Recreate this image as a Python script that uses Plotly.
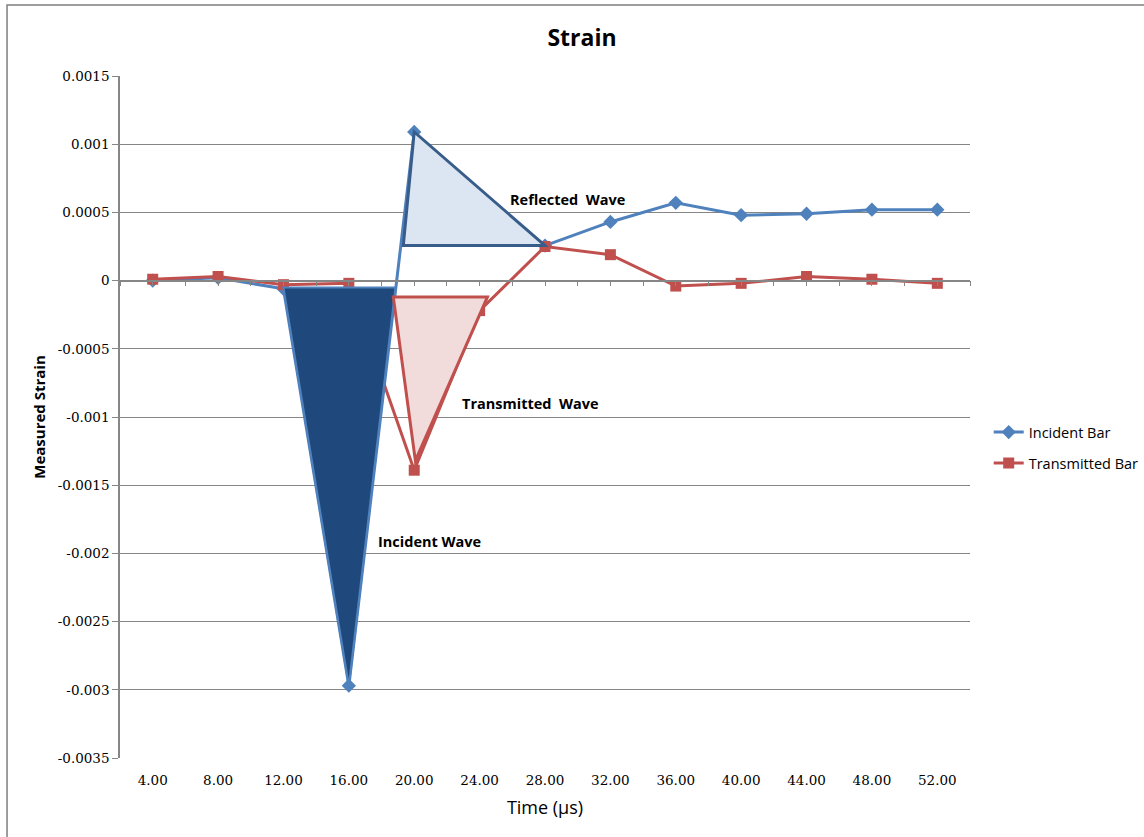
import plotly.graph_objects as go

# ---------------- data ----------------
time_us = [4, 8, 12, 16, 20, 24, 28, 32, 36, 40, 44, 48, 52]
tick_labels = ["4.00", "8.00", "12.00", "16.00", "20.00", "24.00", "28.00",
               "32.00", "36.00", "40.00", "44.00", "48.00", "52.00"]
incident_bar = [0.0, 0.00002, -0.00006, -0.00297, 0.00109, 0.00060, 0.000257,
                0.00043, 0.00057, 0.00048, 0.00049, 0.00052, 0.00052]
transmitted_bar = [0.00001, 0.00003, -0.00003, -0.00002, -0.00139, -0.00022, 0.00025,
                   0.00019, -0.00004, -0.00002, 0.00003, 0.00001, -0.00002]

y_ticks = [0.0015, 0.001, 0.0005, 0, -0.0005, -0.001, -0.0015, -0.002, -0.0025, -0.003, -0.0035]
y_tick_text = ["0.0015", "0.001", "0.0005", "0", "-0.0005", "-0.001", "-0.0015",
               "-0.002", "-0.0025", "-0.003", "-0.0035"]

# hand-drawn wave highlight polygons (x in µs, y in strain)
incident_wave_x = [12.0, 18.85, time_us[3]]
incident_wave_y = [-0.00005, -0.00005, incident_bar[3]]
reflected_wave_x = [19.33, time_us[4], time_us[6]]
reflected_wave_y = [incident_bar[6], incident_bar[4], incident_bar[6]]
transmitted_wave_x = [18.72, 24.48, 20.07]
transmitted_wave_y = [-0.00012, -0.00012, -0.00132]

BLUE = "#4F81BD"
RED = "#C0504D"
TXT = "#000000"
SANS = "Open Sans, Noto Sans, sans-serif"
SERIF = "DejaVu Serif, Liberation Serif, serif"


def poly_path(xs, ys):
    pts = [f"{x},{y}" for x, y in zip(xs, ys)]
    return "M " + " L ".join(pts) + " Z"


fig = go.Figure()
fig.add_trace(go.Scatter(
    x=time_us, y=incident_bar, name="Incident Bar", mode="lines+markers",
    line=dict(color=BLUE, width=3), marker=dict(symbol="diamond", size=11, color=BLUE),
    legendgroup="a"))
fig.add_trace(go.Scatter(
    x=time_us, y=transmitted_bar, name="Transmitted Bar", mode="lines+markers",
    line=dict(color=RED, width=3), marker=dict(symbol="square", size=11, color=RED),
    legendgroup="b"))

shapes = [
    # chart area border (top & left visible)
    dict(type="rect", xref="paper", yref="paper", x0=-0.1329, x1=1.25, y0=-0.13, y1=1.1041,
         line=dict(color="#7F7F7F", width=1.5), fillcolor="rgba(0,0,0,0)", layer="below"),
    dict(type="path", xref="x", yref="y", path=poly_path(incident_wave_x, incident_wave_y),
         fillcolor="#1F497D", line=dict(color=BLUE, width=2), layer="above"),
    dict(type="path", xref="x", yref="y", path=poly_path(reflected_wave_x, reflected_wave_y),
         fillcolor="#DCE6F2", line=dict(color="#385D8A", width=3), layer="above"),
    dict(type="path", xref="x", yref="y", path=poly_path(transmitted_wave_x, transmitted_wave_y),
         fillcolor="#F2DCDB", line=dict(color=RED, width=3), layer="above"),
]

annotations = [
    dict(text="<b>Reflected  Wave</b>", x=29.4, y=0.000594, xref="x", yref="y", showarrow=False,
         font=dict(family=SANS, size=14.5, color=TXT)),
    dict(text="<b>Transmitted  Wave</b>", x=27.1, y=-0.00090, xref="x", yref="y", showarrow=False,
         font=dict(family=SANS, size=14.5, color=TXT)),
    dict(text="<b>Incident Wave</b>", x=20.96, y=-0.00191, xref="x", yref="y", showarrow=False,
         font=dict(family=SANS, size=14.5, color=TXT)),
]

fig.update_layout(
    width=1144, height=837,
    margin=dict(l=120, r=174, t=76, b=79, autoexpand=False),
    paper_bgcolor="white", plot_bgcolor="white",
    title=dict(text="<b>Strain</b>", x=582 / 1144, xanchor="center", y=1 - 38 / 837, yanchor="middle",
               font=dict(family=SANS, size=23, color=TXT)),
    showlegend=True,
    legend=dict(x=1.022, y=0.455, xanchor="left", yanchor="middle", traceorder="grouped",
                tracegroupgap=9, font=dict(family=SANS, size=14.5, color=TXT),
                bgcolor="rgba(0,0,0,0)"),
    xaxis=dict(range=[2, 54], tickvals=time_us, ticktext=tick_labels, showgrid=False,
               zeroline=False, showline=False, ticks="", ticklabelstandoff=12,
               tickfont=dict(family=SERIF, size=13.5, color=TXT),
               title=dict(text="Time (µs)", font=dict(family=SANS, size=18, color=TXT), standoff=14)),
    xaxis2=dict(overlaying="x", matches="x", anchor="free", position=0.7, showline=True,
                linecolor="#868686", linewidth=1.5, ticks="outside", ticklen=5, tickcolor="#868686",
                tickmode="linear", tick0=2, dtick=2, showticklabels=False, showgrid=False,
                zeroline=False, range=[2, 54]),
    yaxis=dict(range=[-0.0035, 0.0015], tickvals=y_ticks, ticktext=y_tick_text,
               showgrid=True, gridcolor="#868686", gridwidth=1, zeroline=False,
               showline=True, linecolor="#868686", linewidth=1.5, ticks="outside", ticklen=6,
               tickcolor="#868686", tickfont=dict(family=SERIF, size=13.5, color=TXT),
               title=dict(text="<b>Measured Strain</b>", font=dict(family=SANS, size=15, color=TXT),
                          standoff=8)),
    shapes=shapes,
    annotations=annotations,
)
# invisible helper trace that activates the zero-line axis (xaxis2)
fig.add_trace(go.Scatter(x=[time_us[0]], y=[incident_bar[0]], xaxis="x2", mode="markers",
                         marker=dict(opacity=0), showlegend=False, hoverinfo="skip"))

fig.write_html("out.html")
